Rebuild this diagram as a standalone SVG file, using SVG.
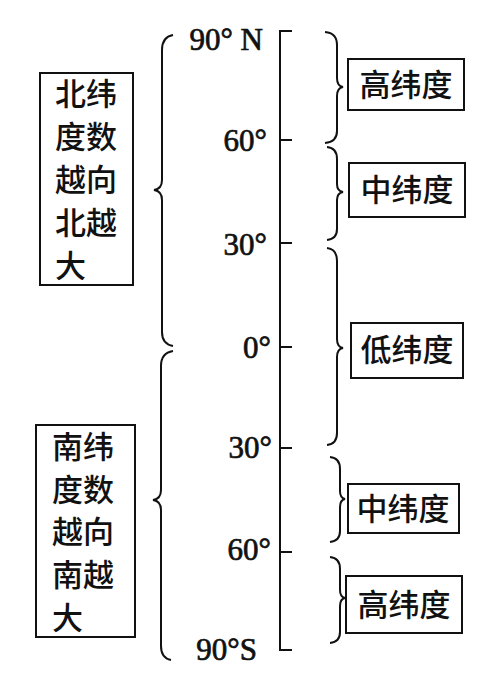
<svg xmlns="http://www.w3.org/2000/svg" width="500" height="675" viewBox="0 0 500 675">
<style>
.ln{fill:none;stroke:#111;stroke-width:2}
.box{fill:#fff;stroke:#111;stroke-width:2}
.num{font-family:"Liberation Serif","Times New Roman",serif;font-size:31px;fill:#111;stroke:#111;stroke-width:0.7;text-anchor:end}
.cn{font-family:"Noto Sans CJK SC","Noto Sans",sans-serif;font-size:31px;font-weight:500;fill:#111}
.cc{text-anchor:middle}
</style>
<rect width="500" height="675" fill="#fff"/>
<g id="connectors">
<path class="ln" d="M292,31 L280,31 L280,650 L292,650"/>
<path class="ln" d="M280,140 H292 M280,243 H292 M280,347 H292 M280,448 H292 M280,552 H292"/>
<path class="ln" d="M173,35 Q162,37 162,50 L162,180 Q162,189 154,190 Q162,191 162,200 L162,332 Q162,344 173,346"/>
<path class="ln" d="M173,351 Q161,353 161,366 L161,490 Q161,499 153,500 Q161,501 161,510 L161,646 Q161,658 171,660"/>
<path class="ln" d="M325,32 Q337,33 337,45 L337,78 Q337,86 343,87 Q337,88 337,96 L337,131 Q337,142 325,143"/>
<path class="ln" d="M327,147 Q337,148 337,159 L337,184 Q337,191 343,192 Q337,193 337,200 L337,229 Q337,239 327,240"/>
<path class="ln" d="M327,248 Q337,249 337,261 L337,339 Q337,347 343,348 Q337,349 337,357 L337,433 Q337,444 327,445"/>
<path class="ln" d="M330,457 Q340,458 340,469 L340,491 Q340,498 345,499 Q340,500 340,507 L340,531 Q340,541 330,542"/>
<path class="ln" d="M330,557 Q340,558 340,569 L340,590 Q340,597 345,598 Q340,599 340,606 L340,632 Q340,642 330,643"/>
</g>
<g id="scale-labels">
<text class="num" x="263" y="50">90° N</text>
<text class="num" x="267" y="151">60°</text>
<text class="num" x="267" y="255">30°</text>
<text class="num" x="271" y="358">0°</text>
<text class="num" x="272" y="458">30°</text>
<text class="num" x="271" y="560">60°</text>
<text class="num" x="257" y="660">90°S</text>
</g>
<g id="north-note">
<rect class="box" x="40" y="73" width="93" height="212"/>
<text class="cn" x="55" y="105">北纬</text>
<text class="cn" x="55" y="148">度数</text>
<text class="cn" x="55" y="191">越向</text>
<text class="cn" x="55" y="234">北越</text>
<text class="cn" x="55" y="277">大</text>
</g>
<g id="south-note">
<rect class="box" x="36" y="425" width="99" height="212"/>
<text class="cn" x="52" y="458">南纬</text>
<text class="cn" x="52" y="501">度数</text>
<text class="cn" x="52" y="543">越向</text>
<text class="cn" x="52" y="586">南越</text>
<text class="cn" x="52" y="629">大</text>
</g>
<g id="high-n">
<rect class="box" x="348" y="59" width="116" height="51"/>
<text class="cn cc" x="406" y="96">高纬度</text>
</g>
<g id="mid-n">
<rect class="box" x="349" y="163" width="116" height="54"/>
<text class="cn cc" x="407" y="201">中纬度</text>
</g>
<g id="low">
<rect class="box" x="351" y="323" width="112" height="55"/>
<text class="cn cc" x="407" y="361">低纬度</text>
</g>
<g id="mid-s">
<rect class="box" x="348" y="484" width="111" height="49"/>
<text class="cn cc" x="403" y="520">中纬度</text>
</g>
<g id="high-s">
<rect class="box" x="346" y="576" width="116" height="57"/>
<text class="cn cc" x="404" y="616">高纬度</text>
</g>
</svg>
